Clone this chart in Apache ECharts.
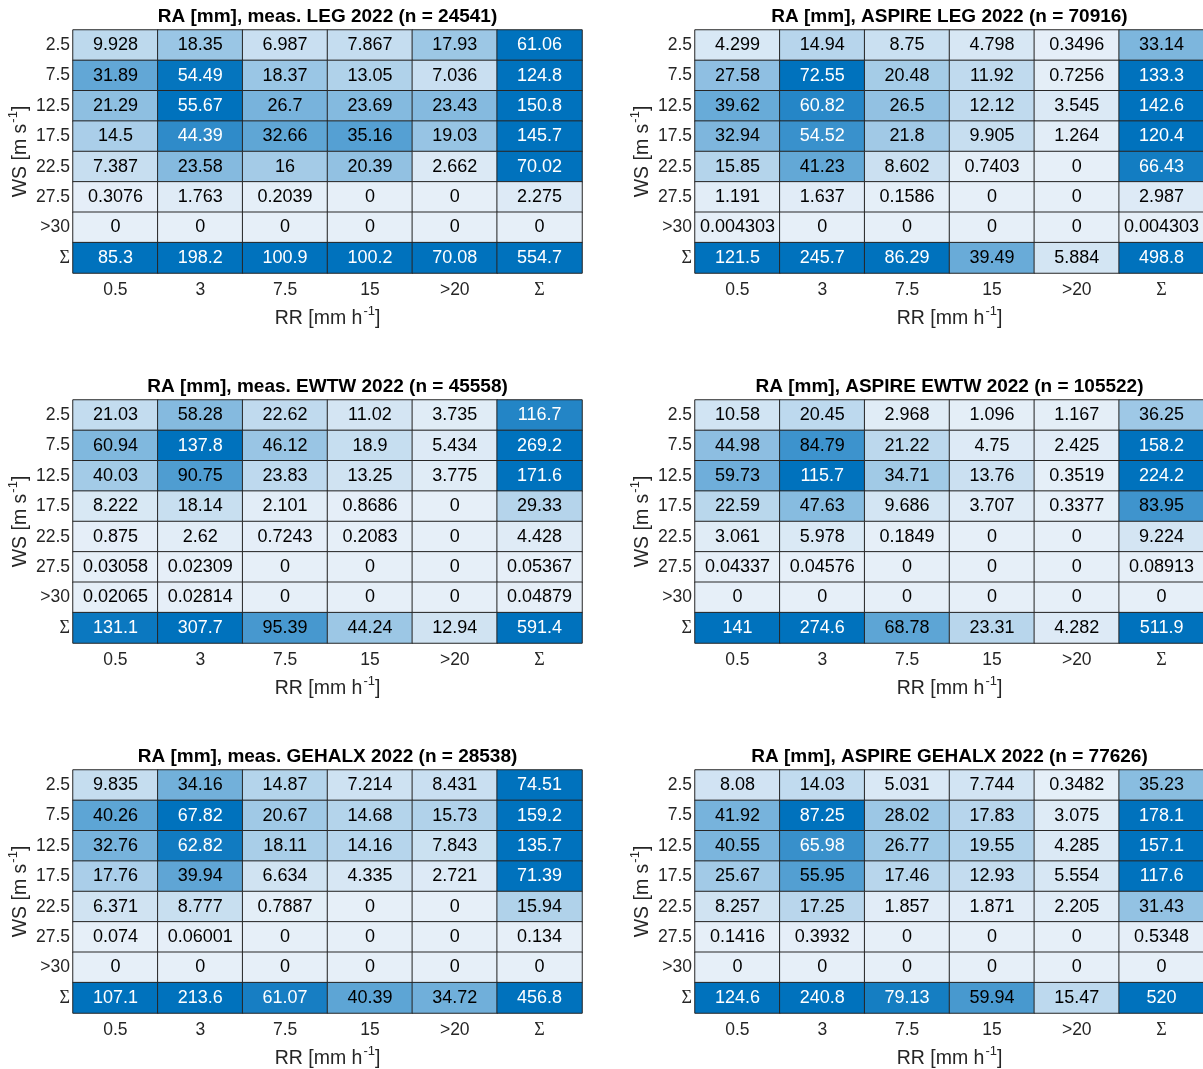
<!DOCTYPE html>
<html>
<head>
<meta charset="utf-8">
<script src="https://cdn.jsdelivr.net/npm/echarts@6/dist/echarts.min.js"></script>
<style>
  html, body { margin: 0; padding: 0; background: #fff; }
  #chart { width: 1203px; height: 1069px; }
</style>
</head>
<body>
<div id="chart"></div>
<script>
// Rain rate classes (columns) and wind speed classes (rows); last entry is the sum
const rrLabels = ['0.5', '3', '7.5', '15', '>20', 'Σ'];
const wsLabels = ['2.5', '7.5', '12.5', '17.5', '22.5', '27.5', '>30', 'Σ'];

const panelTitles = [
  'RA [mm], meas. LEG 2022 (n = 24541)',
  'RA [mm], ASPIRE LEG 2022 (n = 70916)',
  'RA [mm], meas. EWTW 2022 (n = 45558)',
  'RA [mm], ASPIRE EWTW 2022 (n = 105522)',
  'RA [mm], meas. GEHALX 2022 (n = 28538)',
  'RA [mm], ASPIRE GEHALX 2022 (n = 77626)'
];

// Accumulated rain [mm] per WS row / RR column
const legMeas = [
  [9.928, 18.35, 6.987, 7.867, 17.93, 61.06],
  [31.89, 54.49, 18.37, 13.05, 7.036, 124.8],
  [21.29, 55.67, 26.7, 23.69, 23.43, 150.8],
  [14.5, 44.39, 32.66, 35.16, 19.03, 145.7],
  [7.387, 23.58, 16, 20.39, 2.662, 70.02],
  [0.3076, 1.763, 0.2039, 0, 0, 2.275],
  [0, 0, 0, 0, 0, 0],
  [85.3, 198.2, 100.9, 100.2, 70.08, 554.7]
];
const legAspire = [
  [4.299, 14.94, 8.75, 4.798, 0.3496, 33.14],
  [27.58, 72.55, 20.48, 11.92, 0.7256, 133.3],
  [39.62, 60.82, 26.5, 12.12, 3.545, 142.6],
  [32.94, 54.52, 21.8, 9.905, 1.264, 120.4],
  [15.85, 41.23, 8.602, 0.7403, 0, 66.43],
  [1.191, 1.637, 0.1586, 0, 0, 2.987],
  [0.004303, 0, 0, 0, 0, 0.004303],
  [121.5, 245.7, 86.29, 39.49, 5.884, 498.8]
];
const ewtwMeas = [
  [21.03, 58.28, 22.62, 11.02, 3.735, 116.7],
  [60.94, 137.8, 46.12, 18.9, 5.434, 269.2],
  [40.03, 90.75, 23.83, 13.25, 3.775, 171.6],
  [8.222, 18.14, 2.101, 0.8686, 0, 29.33],
  [0.875, 2.62, 0.7243, 0.2083, 0, 4.428],
  [0.03058, 0.02309, 0, 0, 0, 0.05367],
  [0.02065, 0.02814, 0, 0, 0, 0.04879],
  [131.1, 307.7, 95.39, 44.24, 12.94, 591.4]
];
const ewtwAspire = [
  [10.58, 20.45, 2.968, 1.096, 1.167, 36.25],
  [44.98, 84.79, 21.22, 4.75, 2.425, 158.2],
  [59.73, 115.7, 34.71, 13.76, 0.3519, 224.2],
  [22.59, 47.63, 9.686, 3.707, 0.3377, 83.95],
  [3.061, 5.978, 0.1849, 0, 0, 9.224],
  [0.04337, 0.04576, 0, 0, 0, 0.08913],
  [0, 0, 0, 0, 0, 0],
  [141, 274.6, 68.78, 23.31, 4.282, 511.9]
];
const gehalxMeas = [
  [9.835, 34.16, 14.87, 7.214, 8.431, 74.51],
  [40.26, 67.82, 20.67, 14.68, 15.73, 159.2],
  [32.76, 62.82, 18.11, 14.16, 7.843, 135.7],
  [17.76, 39.94, 6.634, 4.335, 2.721, 71.39],
  [6.371, 8.777, 0.7887, 0, 0, 15.94],
  [0.074, 0.06001, 0, 0, 0, 0.134],
  [0, 0, 0, 0, 0, 0],
  [107.1, 213.6, 61.07, 40.39, 34.72, 456.8]
];
const gehalxAspire = [
  [8.08, 14.03, 5.031, 7.744, 0.3482, 35.23],
  [41.92, 87.25, 28.02, 17.83, 3.075, 178.1],
  [40.55, 65.98, 26.77, 19.55, 4.285, 157.1],
  [25.67, 55.95, 17.46, 12.93, 5.554, 117.6],
  [8.257, 17.25, 1.857, 1.871, 2.205, 31.43],
  [0.1416, 0.3932, 0, 0, 0, 0.5348],
  [0, 0, 0, 0, 0, 0],
  [124.6, 240.8, 79.13, 59.94, 15.47, 520]
];

const panels = [legMeas, legAspire, ewtwMeas, ewtwAspire, gehalxMeas, gehalxAspire];

// ---- layout / style ----
const FONT = '"Liberation Sans", Arial, Helvetica, sans-serif';
const SERIF = '"Liberation Serif", "DejaVu Serif", serif';
const lightBlue = '#e6eff8';
const darkBlue = '#0072bd';
const gridW = 509, gridH = 243;
const colLeft = [73, 695];
const rowTop = [30, 400, 770];

// four significant digits, like %.4g
const fmt = v => String(Number(v.toPrecision(4)));

const axisNameRich = {
  t: { fontFamily: FONT, fontSize: 19.5, color: '#262626', lineHeight: 24, verticalAlign: 'bottom' },
  s: { fontFamily: FONT, fontSize: 13, color: '#262626', lineHeight: 24, verticalAlign: 'top', padding: [0, 0, 0, 1] }
};
const tickRich = {
  g: { fontFamily: SERIF, fontSize: 18, color: '#262626' }
};
const tickFmt = v => (v === 'Σ' ? '{g|Σ}' : v);

const grids = [], xAxes = [], yAxes = [], series = [], visualMaps = [], graphics = [];

panels.forEach((mat, i) => {
  const col = i % 2, row = Math.floor(i / 2);
  const left = colLeft[col], top = rowTop[row];

  // colour limits come from the inner cells only (sums saturate)
  let cmax = 0;
  for (let r = 0; r < 7; r++) for (let c = 0; c < 5; c++) cmax = Math.max(cmax, mat[r][c]);

  grids.push({ left: left, top: top, width: gridW, height: gridH, outerBoundsMode: 'none', containLabel: false });

  xAxes.push({
    type: 'category', gridIndex: i, data: rrLabels, position: 'bottom',
    axisLine: { show: false }, axisTick: { show: false }, splitLine: { show: false },
    axisLabel: { fontFamily: FONT, fontSize: 17.5, color: '#262626', margin: 8, formatter: tickFmt, rich: tickRich },
    name: '{t|RR [mm h}{s|-1}{t|]}', nameLocation: 'middle', nameGap: 32,
    nameTextStyle: { fontSize: 19.5, rich: axisNameRich }
  });

  yAxes.push({
    type: 'category', gridIndex: i, data: wsLabels, inverse: true,
    axisLine: { show: false }, axisTick: { show: false }, splitLine: { show: false },
    axisLabel: { fontFamily: FONT, fontSize: 17.5, color: '#262626', margin: 3, formatter: tickFmt, rich: tickRich },
    name: '{t|WS [m s}{s|-1}{t|]}', nameLocation: 'middle', nameRotate: 90, nameGap: 42,
    nameTextStyle: { fontSize: 19.5, rich: axisNameRich }
  });

  const data = [];
  mat.forEach((rowVals, r) => {
    rowVals.forEach((v, c) => {
      data.push({
        value: [c, r, v],
        label: { color: v / cmax > 0.742 ? '#ffffff' : '#000000' }
      });
    });
  });

  series.push({
    type: 'heatmap', xAxisIndex: i, yAxisIndex: i, data: data,
    itemStyle: { borderColor: '#262626', borderWidth: 1 },
    label: {
      show: true, fontFamily: FONT, fontSize: 18,
      formatter: p => fmt(p.value[2])
    },
    emphasis: { disabled: true }
  });

  visualMaps.push({
    type: 'continuous', show: false, seriesIndex: i, dimension: 2,
    min: 0, max: cmax,
    inRange: { color: [lightBlue, darkBlue] }
  });

  graphics.push({
    type: 'text', x: left + gridW / 2, y: top - 13,
    style: {
      text: panelTitles[i], fill: '#000', align: 'center', verticalAlign: 'middle',
      font: 'bold 19px ' + FONT
    }
  });
});

const chart = echarts.init(document.getElementById('chart'), null, { renderer: 'canvas' });
chart.setOption({
  backgroundColor: '#ffffff',
  animation: false,
  grid: grids,
  xAxis: xAxes,
  yAxis: yAxes,
  visualMap: visualMaps,
  series: series,
  graphic: graphics
});
</script>
</body>
</html>
